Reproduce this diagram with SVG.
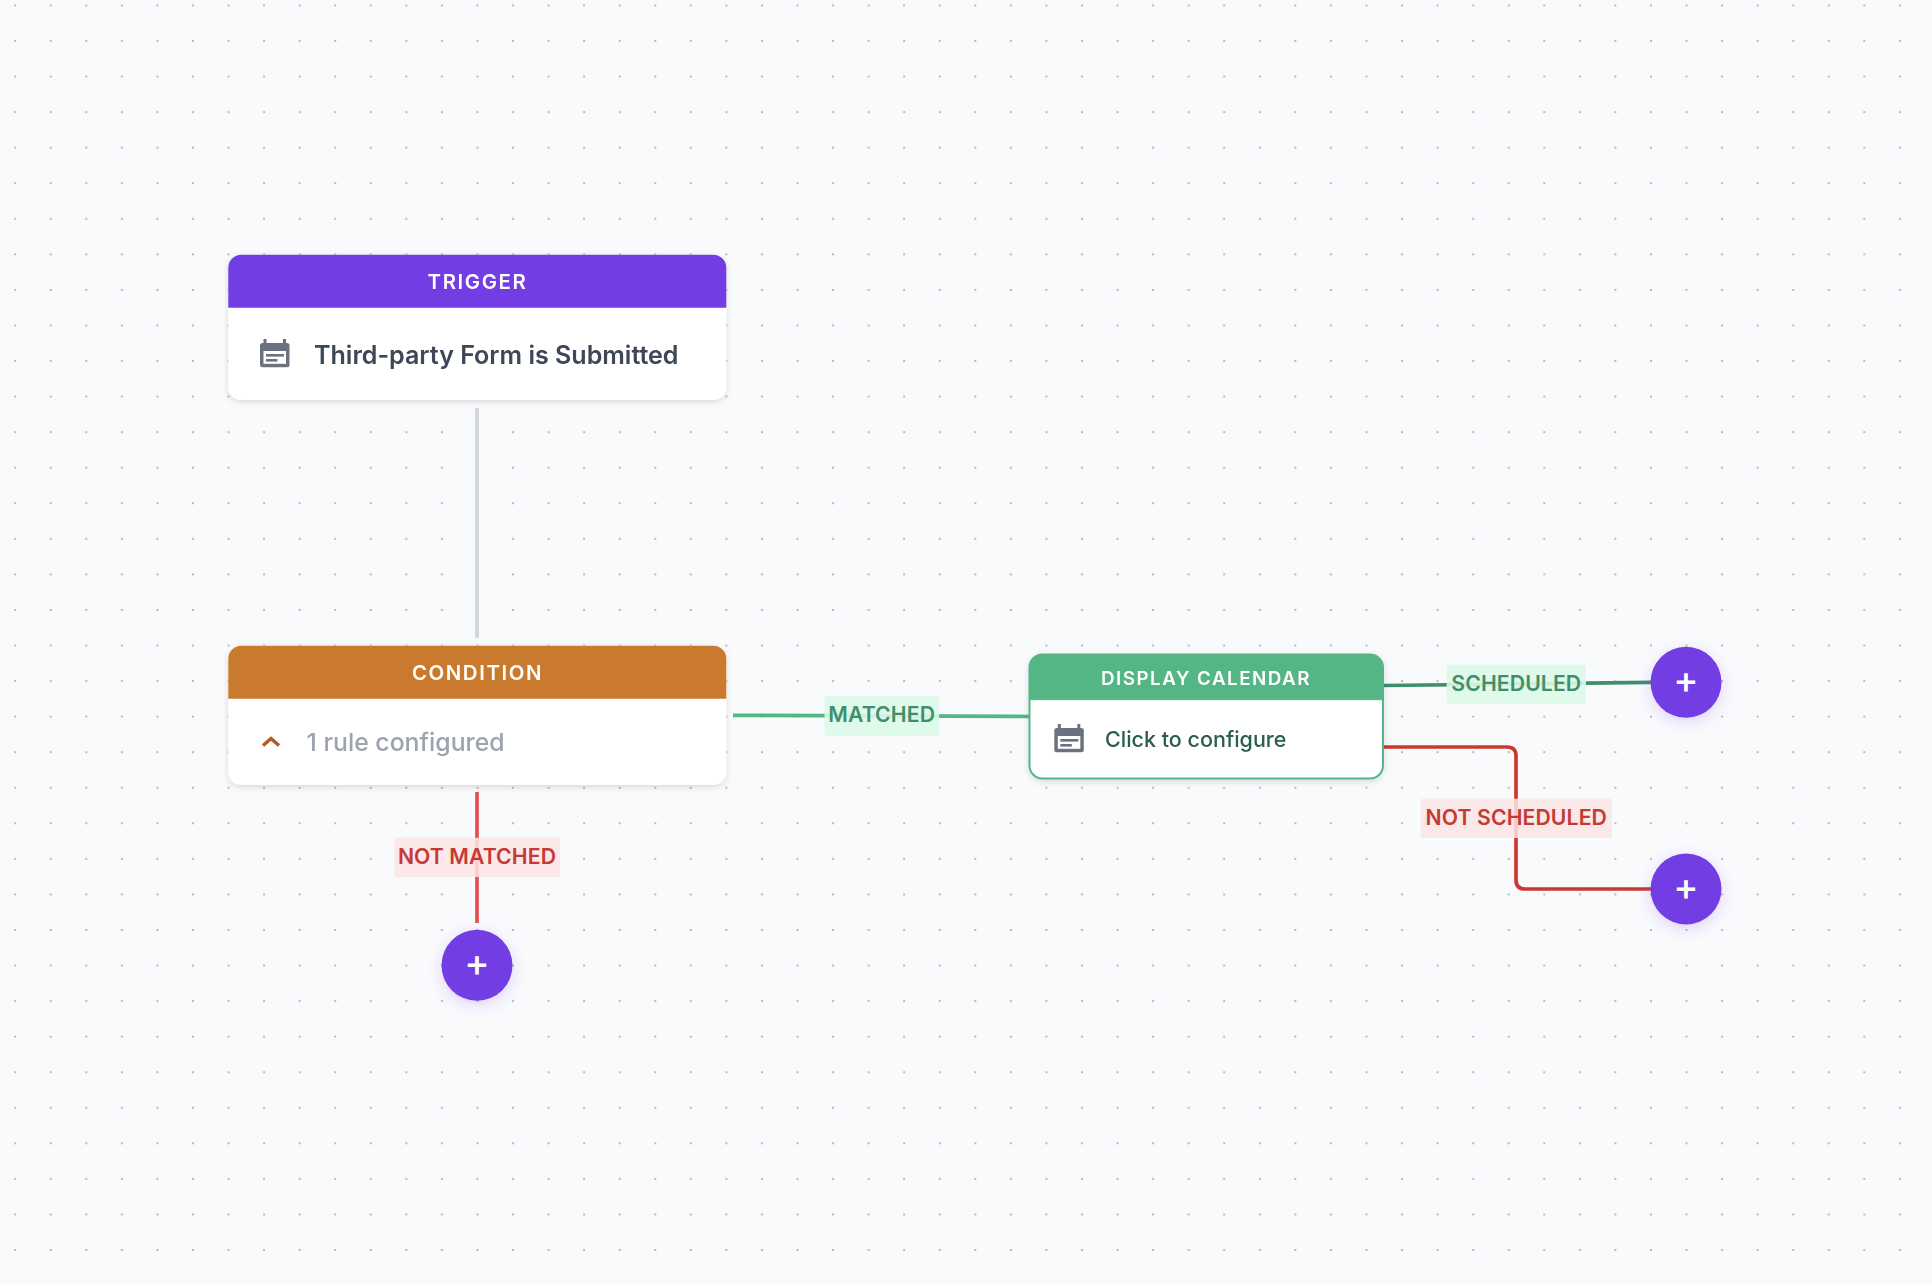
<svg xmlns="http://www.w3.org/2000/svg" width="1932" height="1284" viewBox="0 0 1932 1284">
<style>
text{font-family:Inter,"Noto Sans","Liberation Sans",sans-serif}
.hd{fill:#fff;font-size:20.400px;font-weight:600;letter-spacing:1.6px;text-anchor:middle}
.lb{font-size:21.200px;font-weight:600;text-anchor:middle;letter-spacing:.1px}
.pl{fill:#fff;font-size:38px;font-weight:500;text-anchor:middle}
.c{fill:none;stroke-width:3.700}
.btn{fill:#723ee2;filter:url(#glow)}
.card{filter:url(#sh)}
</style>
<defs>
<pattern id="dots" x="15.2" y="5.4" width="35.56" height="35.56" patternUnits="userSpaceOnUse">
<circle cx="0" cy="0" r="1.1" fill="#a9acb3"/><circle cx="35.56" cy="0" r="1.1" fill="#a9acb3"/><circle cx="0" cy="35.56" r="1.1" fill="#a9acb3"/><circle cx="35.56" cy="35.56" r="1.1" fill="#a9acb3"/>
</pattern>
<filter id="sh" x="-5%" y="-10%" width="110%" height="125%"><feDropShadow dx="0" dy="2" stdDeviation="3" flood-color="#000" flood-opacity=".13"/></filter>
<filter id="glow" x="-40%" y="-40%" width="180%" height="180%"><feDropShadow dx="0" dy="4" stdDeviation="7" flood-color="#723ee2" flood-opacity=".2"/></filter>
<g id="cal">
<path d="M3 0h3v4.500h-3zM22.500 0h3v4.500h-3z" fill="#6b7280" transform="translate(.5 0)"/>
<rect x="0" y="4" width="29.500" height="24.300" rx="2.500" fill="#6b7280"/>
<rect x="3.500" y="12" width="22.500" height="12.800" fill="#fff"/>
<rect x="6" y="15" width="18" height="2.600" fill="#6b7280"/><rect x="6" y="20" width="11.500" height="2.600" fill="#6b7280"/>
</g>
</defs>
<rect width="1932" height="1284" fill="#f9fafc"/>
<rect width="1932" height="1284" fill="url(#dots)"/>

<g id="connectors">
<path class="c" stroke="#d1d5db" d="M477 408V638"/>
<path class="c" stroke="#e25150" d="M477 792V923"/>
<path class="c" stroke="#55b685" d="M733 715.300L1029 716.500"/>
<path class="c" stroke="#3f8f6b" d="M1384 685.500L1651 682.300"/>
<path class="c" stroke="#cb3830" d="M1384 747H1507Q1516 747 1516 756V880Q1516 889 1525 889H1651"/>
</g>

<g id="trigger" class="card">
<rect x="228.300" y="254.700" width="498" height="145.300" rx="13" fill="#fff"/>
<path d="M228.300 307.700V267.700a13 13 0 0 1 13-13H713.300a13 13 0 0 1 13 13V307.700z" fill="#723ee2"/>
<text class="hd" x="477.500" y="288.800">TRIGGER</text>
<use href="#cal" x="260" y="339"/>
<text x="314" y="364.300" font-size="25.050" font-weight="600" fill="#3d4657">Third-party Form is Submitted</text>
</g>

<g id="condition" class="card">
<rect x="228.300" y="645.700" width="498" height="139.300" rx="13" fill="#fff"/>
<path d="M228.300 698.700V658.700a13 13 0 0 1 13-13H713.300a13 13 0 0 1 13 13V698.700z" fill="#ca7a2e"/>
<text class="hd" x="477.500" y="680">CONDITION</text>
<path d="M263 745.500L271 738.500L279 745.500" fill="none" stroke="#b05a20" stroke-width="3.500"/>
<text x="306.500" y="751" font-size="24.800" font-weight="500" fill="#9ca3af">1 rule configured</text>
</g>

<g id="display-calendar" class="card">
<rect x="1029.500" y="654.500" width="353.500" height="124" rx="13" fill="#fff" stroke="#55b685" stroke-width="2"/>
<path d="M1029.500 699.700V667.500a13 13 0 0 1 13-13H1370a13 13 0 0 1 13 13V699.700z" fill="#55b685" stroke="#55b685"/>
<text class="hd" x="1206" y="685" style="font-size:18.800px;letter-spacing:1.5px">DISPLAY CALENDAR</text>
<use href="#cal" x="1054.300" y="724"/>
<text x="1105" y="747" font-size="21.500" font-weight="500" fill="#2a5f48">Click to configure</text>
</g>

<g id="label-not-matched">
<rect x="394.300" y="837.700" width="165.700" height="39.300" rx="3" fill="#fbe4e4" fill-opacity=".85"/>
<text class="lb" x="477" y="864" fill="#c53a35">NOT MATCHED</text>
</g>
<g id="label-matched">
<rect x="824.500" y="696" width="114.500" height="39.700" rx="3" fill="#dcf9e8" fill-opacity=".9"/>
<text class="lb" x="881.700" y="722" fill="#3f8f6b">MATCHED</text>
</g>
<g id="label-scheduled">
<rect x="1446.700" y="664.700" width="139.300" height="39" rx="3" fill="#dcf9e8" fill-opacity=".9"/>
<text class="lb" x="1516.300" y="691" fill="#3f8f6b">SCHEDULED</text>
</g>
<g id="label-not-scheduled">
<rect x="1420.700" y="798.700" width="191.300" height="39.300" rx="3" fill="#fbe4e4" fill-opacity=".85"/>
<text class="lb" x="1516.300" y="825" fill="#c53a35">NOT SCHEDULED</text>
</g>

<g id="add-not-matched"><circle class="btn" cx="477" cy="965.300" r="35.500"/><text class="pl" x="477" y="976">+</text></g>
<g id="add-scheduled"><circle class="btn" cx="1686" cy="682.300" r="35.500"/><text class="pl" x="1686" y="693">+</text></g>
<g id="add-not-scheduled"><circle class="btn" cx="1686" cy="889" r="35.500"/><text class="pl" x="1686" y="899.700">+</text></g>
</svg>
